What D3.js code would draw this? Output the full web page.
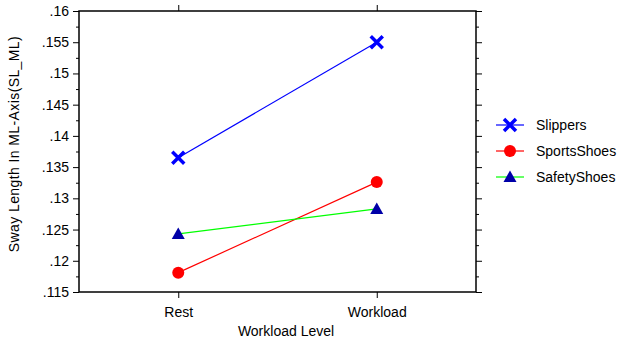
<!DOCTYPE html>
<html>
<head>
<meta charset="utf-8">
<script src="https://cdn.jsdelivr.net/npm/d3@7"></script>
<style>
body{margin:0;background:#fff;}
text{font-family:"Liberation Sans",Arial,sans-serif;}
</style>
</head>
<body>
<script>
var levels = ["Rest","Workload"];
var seriesNames = ["Slippers","SportsShoes","SafetyShoes"];
var slippers = [0.1365, 0.1550];
var sportsShoes = [0.1181, 0.1326];
var safetyShoes = [0.1243, 0.1283];
var yTicks = [0.115,0.12,0.125,0.13,0.135,0.14,0.145,0.15,0.155,0.16];

var width = 623, height = 341;
var margin = {left:79,right:147,top:11,bottom:49};

var svg = d3.select('body').append('svg').attr('width',width).attr('height',height);

var x = d3.scalePoint().domain(levels).range([margin.left,width-margin.right]).padding(0.5);
var y = d3.scaleLinear().domain([0.115,0.16]).range([height-margin.bottom,margin.top]);

var fmt = function(d){ return d3.format(".3~f")(d).replace(/^0/,""); };
var minor = d3.range(0,9).map(function(i){ return 0.1175 + i*0.005; });

// frame
svg.append("rect").attr("x",margin.left).attr("y",margin.top)
        .attr("width",width-margin.right-margin.left).attr("height",height-margin.bottom-margin.top)
        .attr("fill","none").attr("stroke","black").attr("stroke-width",1.5);

svg.append("g").attr("transform","translate("+margin.left+",0)")
        .call(d3.axisLeft(y).tickValues(yTicks).tickFormat(fmt).tickSize(6).tickPadding(4));
svg.append("g").attr("transform","translate("+margin.left+",0)")
        .call(d3.axisLeft(y).tickValues(minor).tickFormat("").tickSize(3));
svg.append("g").attr("transform","translate("+(width-margin.right)+",0)")
        .call(d3.axisRight(y).tickValues(yTicks).tickFormat("").tickSize(6));
svg.append("g").attr("transform","translate("+(width-margin.right)+",0)")
        .call(d3.axisRight(y).tickValues(minor).tickFormat("").tickSize(3));
svg.append("g").attr("transform","translate(0,"+(height-margin.bottom)+")")
        .call(d3.axisBottom(x).tickSize(6).tickPadding(9));
svg.append("g").attr("transform","translate(0,"+margin.top+")")
        .call(d3.axisTop(x).tickFormat("").tickSize(6));

svg.selectAll(".domain").remove();
svg.selectAll(".tick line").attr("stroke","black");
svg.selectAll(".tick text").attr("font-size","14px").attr("fill","black")
        .style("font-family","'Liberation Sans',Arial,sans-serif");

// titles
svg.append("text").attr("x",286).attr("y",336)
        .attr("text-anchor","middle").attr("font-size","14px").text("Workload Level");
svg.append("text").attr("transform","translate(19,144) rotate(-90)")
        .attr("text-anchor","middle").attr("font-size","14px").attr("letter-spacing","0.4px")
        .text("Sway Length In ML-Axis(SL_ML)");

var series = [
        {name:seriesNames[0], values:slippers, line:"#0000ff", marker:"x", mcolor:"#0000ff"},
        {name:seriesNames[1], values:sportsShoes, line:"#ff0000", marker:"circle", mcolor:"#ff0000"},
        {name:seriesNames[2], values:safetyShoes, line:"#00ff00", marker:"triangle", mcolor:"#0000a8"}
];

function drawMarker(g, type, color){
        if(type=="x"){
                g.append("path").attr("d","M-6,-6L6,6M-6,6L6,-6")
                        .attr("stroke",color).attr("stroke-width",3.5).attr("fill","none");
        }else if(type=="circle"){
                g.append("circle").attr("r",6).attr("fill",color);
        }else{
                g.append("path").attr("d","M0,-6.5L6.5,5L-6.5,5Z").attr("fill",color);
        }
}

var line = d3.line().x(function(d,i){ return x(levels[i]); }).y(function(d){ return y(d); });

series.forEach(function(s){
        svg.append("path").attr("d",line(s.values)).attr("fill","none")
                .attr("stroke",s.line).attr("stroke-width",1.2);
});
series.forEach(function(s){
        s.values.forEach(function(v,i){
                var g = svg.append("g").attr("transform","translate("+x(levels[i])+","+y(v)+")");
                drawMarker(g, s.marker, s.mcolor);
        });
});

// legend
var legend = svg.append("g").attr("transform","translate(496,125)");
series.forEach(function(s,i){
        var g = legend.append("g").attr("transform","translate(0,"+(i*26)+")");
        g.append("line").attr("x1",0).attr("x2",28).attr("stroke",s.line).attr("stroke-width",1.2);
        var m = g.append("g").attr("transform","translate(14,0)");
        drawMarker(m, s.marker, s.mcolor);
        g.append("text").attr("x",40).attr("y",5).attr("font-size","14px").text(s.name);
});
</script>
</body>
</html>
